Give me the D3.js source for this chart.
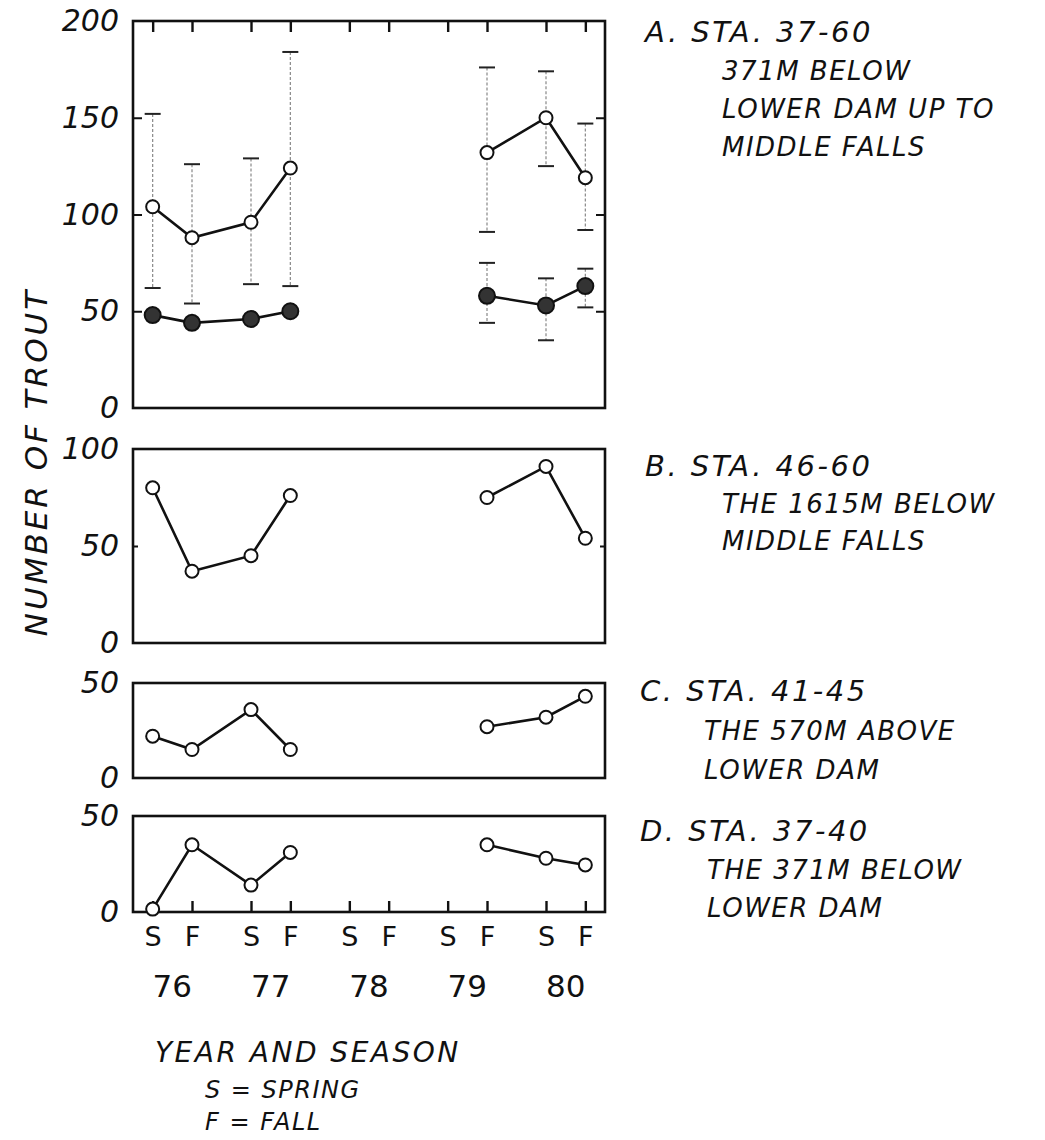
<!DOCTYPE html>
<html>
<head>
<meta charset="utf-8">
<script src="https://cdn.jsdelivr.net/npm/d3@7"></script>
<style>
  body { margin: 0; background: #fff; }
  text { font-family: "DejaVu Sans", sans-serif; fill: #111; }
</style>
</head>
<body>
<svg id="chart" width="1045" height="1140"></svg>
<script>
// ---- data ----
const periods = ["S76","F76","S77","F77","S78","F78","S79","F79","S80","F80"];
const seasonLabels = ["S","F","S","F","S","F","S","F","S","F"];
const yearLabels = ["76","77","78","79","80"];

const aOpen    = [104, 88, 96, 124, null, null, null, 132, 150, 119];
const aOpenHi  = [152, 126, 129, 184, null, null, null, 176, 174, 147];
const aOpenLo  = [62, 54, 64, 63, null, null, null, 91, 125, 92];
const aFilled  = [48, 44, 46, 50, null, null, null, 58, 53, 63];
const aFillHi  = [null, null, null, null, null, null, null, 75, 67, 72];
const aFillLo  = [null, null, null, null, null, null, null, 44, 35, 52];
const bValues  = [80, 37, 45, 76, null, null, null, 75, 91, 54];
const cValues  = [22, 15, 36, 15, null, null, null, 27, 32, 43];
const dValues  = [1.5, 35, 14, 31, null, null, null, 35, 28, 24.5];

const titles = {
  A: ["A.  STA. 37-60", "371M BELOW", "LOWER DAM UP TO", "MIDDLE FALLS"],
  B: ["B.  STA. 46-60", "THE 1615M BELOW", "MIDDLE FALLS"],
  C: ["C.  STA. 41-45", "THE 570M ABOVE", "LOWER DAM"],
  D: ["D.  STA. 37-40", "THE 371M BELOW", "LOWER DAM"]
};

// ---- layout ----
const svg = d3.select("#chart");
const L = 133, R = 605;
const periodNum = p => +p.slice(1) + (p[0] === "F" ? 0.4 : 0);
const x = d3.scaleLinear().domain([75.8, 80.6]).range([L, R]);

const panels = [
  { key: "A", domain: [0, 200], top: 21, bottom: 408, labels: [0, 50, 100, 150, 200], inner: [50, 100, 150], tickLen: 9, titleY: 42, titleX: 645, subX: 722, lh: 38 },
  { key: "B", domain: [0, 100], top: 449, bottom: 643, labels: [0, 50, 100], inner: [50], tickLen: 5, titleY: 476, titleX: 645, subX: 722, lh: 37 },
  { key: "C", domain: [0, 50], top: 683, bottom: 778, labels: [0, 50], inner: [], tickLen: 0, titleY: 701, titleX: 640, subX: 704, lh: 39 },
  { key: "D", domain: [0, 50], top: 816, bottom: 912, labels: [0, 50], inner: [], tickLen: 0, titleY: 841, titleX: 640, subX: 707, lh: 38 }
];

panels.forEach(p => {
  p.y = d3.scaleLinear().domain(p.domain).range([p.bottom, p.top]);
  const g = svg.append("g");
  g.append("rect").attr("x", L).attr("y", p.top).attr("width", R - L).attr("height", p.bottom - p.top)
    .attr("fill", "none").attr("stroke", "#111").attr("stroke-width", 2.6);
  const yl = g.append("g").attr("transform", `translate(${L},0)`)
    .call(d3.axisLeft(p.y).tickValues(p.labels).tickSize(0).tickPadding(14).tickFormat(d3.format("d")));
  yl.select(".domain").remove();
  yl.selectAll("text").attr("font-size", 30).attr("font-style", "italic").style("font-family", "DejaVu Sans, sans-serif").attr("fill", "#111");
  if (p.inner.length) {
    const lt = g.append("g").attr("transform", `translate(${L},0)`)
      .call(d3.axisRight(p.y).tickValues(p.inner).tickSize(p.tickLen).tickFormat(""));
    lt.select(".domain").remove();
    lt.selectAll("line").attr("stroke", "#111").attr("stroke-width", 2);
    const rt = g.append("g").attr("transform", `translate(${R},0)`)
      .call(d3.axisLeft(p.y).tickValues(p.inner).tickSize(p.tickLen).tickFormat(""));
    rt.select(".domain").remove();
    rt.selectAll("line").attr("stroke", "#111").attr("stroke-width", 2);
  }
  titles[p.key].forEach((t, i) => {
    g.append("text").attr("x", i === 0 ? p.titleX : p.subX).attr("y", p.titleY + i * p.lh)
      .attr("font-size", i === 0 ? 29 : 26).attr("letter-spacing", i === 0 ? 2.5 : 1.5)
      .attr("font-style", "italic").text(t);
  });
});

const topTicks = svg.append("g").attr("transform", `translate(0,${panels[0].top})`)
  .call(d3.axisBottom(x).tickValues(periods.map(periodNum)).tickSize(11).tickFormat(""));
topTicks.select(".domain").remove();
topTicks.selectAll("line").attr("stroke", "#111").attr("stroke-width", 2.4);

const botTicks = svg.append("g").attr("transform", `translate(0,${panels[3].bottom})`)
  .call(d3.axisTop(x).tickValues(periods.map(periodNum)).tickSize(11).tickFormat(""));
botTicks.select(".domain").remove();
botTicks.selectAll("line").attr("stroke", "#111").attr("stroke-width", 2.4);

const sl = svg.append("g").attr("transform", `translate(0,${panels[3].bottom})`)
  .call(d3.axisBottom(x).tickValues(periods.map(periodNum)).tickSize(0).tickPadding(15)
    .tickFormat((d, i) => seasonLabels[i]));
sl.select(".domain").remove();
sl.selectAll("text").attr("font-size", 27).style("font-family", "DejaVu Sans, sans-serif").attr("fill", "#111");

svg.append("g").selectAll("text").data(yearLabels).join("text")
  .attr("x", d => x(+d + 0.2)).attr("y", 997).attr("text-anchor", "middle")
  .attr("font-size", 31).text(d => d);

svg.append("text").attr("transform", "translate(47,462) rotate(-90)").attr("text-anchor", "middle")
  .attr("font-size", 31).attr("letter-spacing", 3).attr("font-style", "italic").text("NUMBER OF TROUT");
svg.append("text").attr("x", 155).attr("y", 1062).attr("font-size", 28).attr("letter-spacing", 2.5).attr("font-style", "italic").text("YEAR AND SEASON");
svg.append("text").attr("x", 205).attr("y", 1098).attr("font-size", 24).attr("letter-spacing", 1.5).attr("font-style", "italic").text("S = SPRING");
svg.append("text").attr("x", 205).attr("y", 1130).attr("font-size", 24).attr("letter-spacing", 1.5).attr("font-style", "italic").text("F = FALL");

// ---- marks ----
function rows(vals) {
  return periods.map((p, i) => ({ p, x: periodNum(p), v: vals[i] }));
}
function drawErr(y, vals, hi, lo, capW) {
  const d = periods.map((p, i) => ({ x: periodNum(p), v: vals[i], hi: hi[i], lo: lo[i] }))
    .filter(r => r.hi != null && r.lo != null);
  const g = svg.append("g");
  g.selectAll("line.stem").data(d).join("line")
    .attr("x1", r => x(r.x)).attr("x2", r => x(r.x))
    .attr("y1", r => y(r.hi)).attr("y2", r => y(r.lo))
    .attr("stroke", "#888").attr("stroke-width", 1.2).attr("stroke-dasharray", "3,2");
  ["hi", "lo"].forEach(k => {
    g.selectAll("line.cap" + k).data(d).join("line")
      .attr("x1", r => x(r.x) - capW).attr("x2", r => x(r.x) + capW)
      .attr("y1", r => y(r[k])).attr("y2", r => y(r[k]))
      .attr("stroke", "#222").attr("stroke-width", 2);
  });
}
function drawSeries(y, vals, filled) {
  const d = rows(vals);
  const line = d3.line().defined(r => r.v != null).x(r => x(r.x)).y(r => y(r.v));
  svg.append("path").datum(d).attr("d", line).attr("fill", "none")
    .attr("stroke", "#111").attr("stroke-width", 2.6);
  svg.append("g").selectAll("circle").data(d.filter(r => r.v != null)).join("circle")
    .attr("cx", r => x(r.x)).attr("cy", r => y(r.v))
    .attr("r", filled ? 8 : 6.5)
    .attr("fill", filled ? "#333" : "#fff")
    .attr("stroke", "#111").attr("stroke-width", 2);
}

const yA = panels[0].y;
drawErr(yA, aOpen, aOpenHi, aOpenLo, 8);
drawErr(yA, aFilled, aFillHi, aFillLo, 8);
drawSeries(yA, aOpen, false);
drawSeries(yA, aFilled, true);
drawSeries(panels[1].y, bValues, false);
drawSeries(panels[2].y, cValues, false);
drawSeries(panels[3].y, dValues, false);
</script>
</body>
</html>
